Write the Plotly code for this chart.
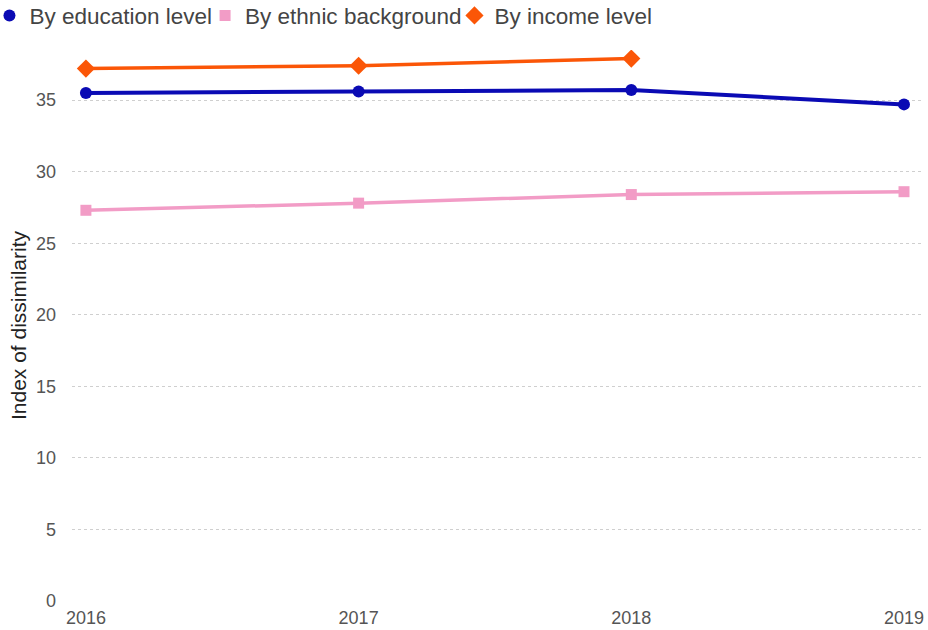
import plotly.graph_objects as go

years = [2016, 2017, 2018, 2019]
education = [35.5, 35.6, 35.7, 34.7]
ethnic = [27.3, 27.8, 28.4, 28.6]
income_years = [2016, 2017, 2018]
income = [37.2, 37.4, 37.9]
y_ticks = [0, 5, 10, 15, 20, 25, 30, 35]

series = [
    ("By education level", years, education, "#0a0ab4", "circle", 12, 4),
    ("By ethnic background", years, ethnic, "#f29cc6", "square", 11, 3.5),
    ("By income level", income_years, income, "#fb5607", "diamond", 14, 3.5),
]

fig = go.Figure()
for name, xs, ys, color, sym, size, lw in series:
    fig.add_trace(go.Scatter(x=xs, y=ys, name=name, mode="lines+markers", showlegend=False,
                             line=dict(color=color, width=lw),
                             marker=dict(symbol=sym, size=size, color=color)))
for name, xs, ys, color, sym, size, lw in series:
    fig.add_trace(go.Scatter(x=[None], y=[None], name=name, mode="markers",
                             marker=dict(symbol=sym, size=size, color=color)))

fig.update_layout(
    width=928, height=630,
    margin=dict(l=72, r=6, t=50, b=29, autoexpand=False),
    paper_bgcolor="white", plot_bgcolor="white",
    font=dict(family="Liberation Sans, Arial, sans-serif", color="#555555", size=18),
    showlegend=True,
    legend=dict(orientation="h", x=-0.083, xanchor="left", y=1.101, yanchor="top",
                font=dict(size=22.5, color="#444444"), tracegroupgap=0, indentation=-12,
                itemwidth=30, bgcolor="rgba(0,0,0,0)"),
    xaxis=dict(range=[2015.949, 2019.066], tickvals=years, ticktext=[str(y) for y in years],
               showgrid=False, zeroline=False, showline=False, ticks="", automargin=False,
               tickfont=dict(size=18), ticklabelstandoff=4),
    yaxis=dict(range=[0, 38.5], tickvals=y_ticks, showgrid=True, gridcolor="#cfcfcf",
               griddash="dot", gridwidth=1, zeroline=False, showline=False, ticks="",
               automargin=False, tickfont=dict(size=18), ticklabelstandoff=15,
               title=dict(text="Index of dissimilarity",
                          font=dict(family="Liberation Sans, Arial, sans-serif", size=21, color="#222222"),
                          standoff=3)),
)
fig.write_html("out.html", config={"displayModeBar": False},
               post_script="document.body.style.margin='0';document.body.style.padding='0';document.body.style.overflow='hidden';")
